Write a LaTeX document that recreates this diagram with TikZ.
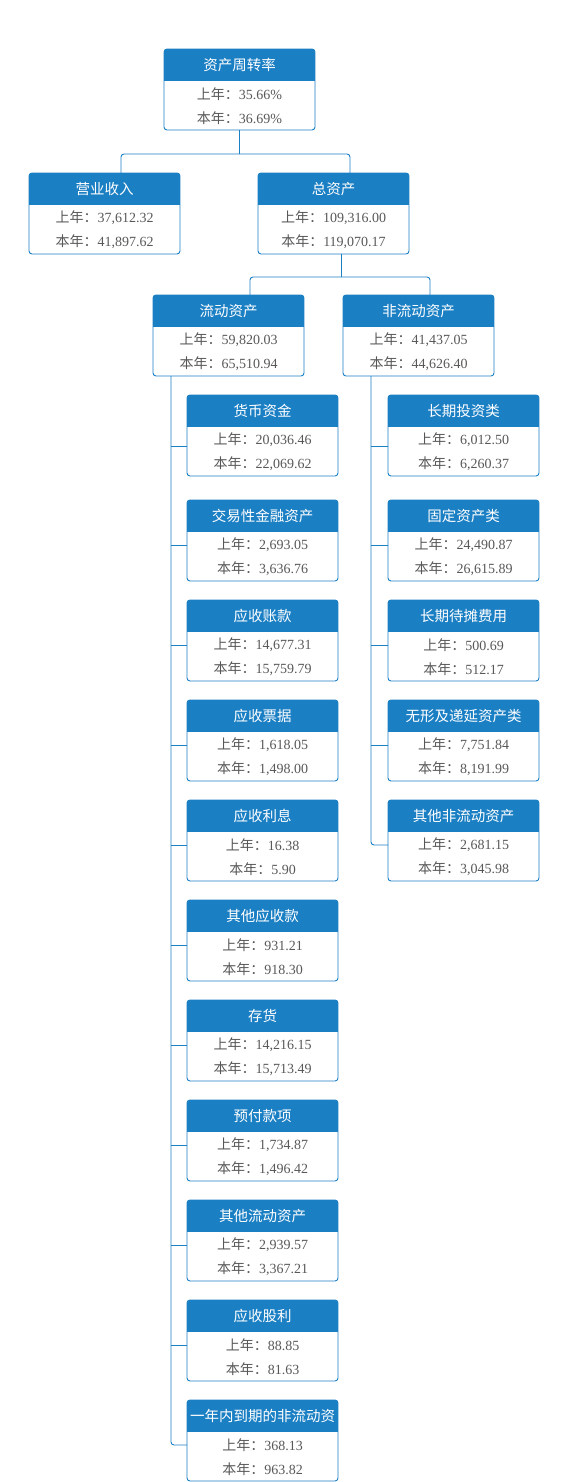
\documentclass[tikz,border=0pt]{standalone}
\usepackage{fontspec}
\setmainfont{Liberation Serif}
\newfontfamily\cjk{Noto Sans CJK SC}
\usetikzlibrary{calc}
\definecolor{hdblue}{RGB}{27,127,196}
\definecolor{txtgray}{RGB}{88,88,88}

\tikzset{
  acctbox/.style={rectangle,minimum width=151pt,minimum height=81pt,inner sep=0pt,outer sep=0pt},
  acctline/.style={draw=hdblue,line width=0.9pt},
  hdtext/.style={text=white,font=\cjk\fontsize{14.5pt}{16pt}\selectfont,inner sep=0pt},
  bodytext/.style={text=txtgray,font=\fontsize{14pt}{16pt}\selectfont,inner sep=0pt},
  link/.style={draw=hdblue,line width=0.9pt},
}

% name, left x, top y, title, last year, this year
\newcommand{\acct}[6]{%
  \node[acctbox] (#1) at (#2+75.5,#3+40.5) {};
  \begin{scope}
    \clip[rounded corners=3pt] (#1.north west) rectangle (#1.south east);
    \fill[hdblue] (#1.north west) rectangle ([yshift=-32pt]#1.north east);
  \end{scope}
  \draw[acctline,rounded corners=3pt] (#1.north west) rectangle (#1.south east);
  \node[hdtext] (#1-t) at ([yshift=-16pt]#1.north) {#4};
  \node[bodytext] (#1-p) at ([yshift=-45pt]#1.north) {{\cjk 上年：}#5};
  \node[bodytext] (#1-c) at ([yshift=-69pt]#1.north) {{\cjk 本年：}#6};
}

\begin{document}
\begin{tikzpicture}[x=1pt,y=-1pt]
\useasboundingbox (0,0) rectangle (560,1482);
\acct{root}{164}{49}{资产周转率}{35.66\%}{36.69\%}
\acct{rev}{29}{173}{营业收入}{37,612.32}{41,897.62}
\acct{tot}{258}{173}{总资产}{109,316.00}{119,070.17}
\acct{cur}{153}{295}{流动资产}{59,820.03}{65,510.94}
\acct{ncur}{343}{295}{非流动资产}{41,437.05}{44,626.40}
% current assets
\acct{c1}{187}{395}{货币资金}{20,036.46}{22,069.62}
\acct{c2}{187}{500}{交易性金融资产}{2,693.05}{3,636.76}
\acct{c3}{187}{600}{应收账款}{14,677.31}{15,759.79}
\acct{c4}{187}{700}{应收票据}{1,618.05}{1,498.00}
\acct{c5}{187}{800}{应收利息}{16.38}{5.90}
\acct{c6}{187}{900}{其他应收款}{931.21}{918.30}
\acct{c7}{187}{1000}{存货}{14,216.15}{15,713.49}
\acct{c8}{187}{1100}{预付款项}{1,734.87}{1,496.42}
\acct{c9}{187}{1200}{其他流动资产}{2,939.57}{3,367.21}
\acct{c10}{187}{1300}{应收股利}{88.85}{81.63}
\acct{c11}{187}{1400}{一年内到期的非流动资}{368.13}{963.82}
% non-current assets
\acct{n1}{388}{395}{长期投资类}{6,012.50}{6,260.37}
\acct{n2}{388}{500}{固定资产类}{24,490.87}{26,615.89}
\acct{n3}{388}{600}{长期待摊费用}{500.69}{512.17}
\acct{n4}{388}{700}{无形及递延资产类}{7,751.84}{8,191.99}
\acct{n5}{388}{800}{其他非流动资产}{2,681.15}{3,045.98}

% connectors
\coordinate (j1) at (239.5,154);
\draw[link] (root.south) -- (j1);
\draw[link,rounded corners=3pt] ([xshift=16.5pt]rev.north) |- (j1) -| ([xshift=16.5pt]tot.north);
\coordinate (j2) at (341,277);
\draw[link] ([xshift=7.5pt]tot.south) -- (j2);
\draw[link,rounded corners=3pt] ([xshift=21.5pt]cur.north) |- (j2) -| ([xshift=11.5pt]ncur.north);

\coordinate (lt) at (171,376);
\draw[link,rounded corners=3pt] (lt) |- ([yshift=-4.5pt]c11.west);
\foreach \i/\s in {1/10.5,2/4.5,3/4.5,4/4.5,5/4.5,6/4.5,7/4.5,8/4.5,9/4.5,10/4.5}
  \draw[link] ([yshift=-\s pt]c\i.west) -- ++(-16,0);

\coordinate (rt) at (371,376);
\draw[link,rounded corners=3pt] (rt) |- ([yshift=-4.5pt]n5.west);
\foreach \i/\s in {1/10.5,2/4.5,3/4.5,4/4.5}
  \draw[link] ([yshift=-\s pt]n\i.west) -- ++(-17,0);
\end{tikzpicture}
\end{document}
